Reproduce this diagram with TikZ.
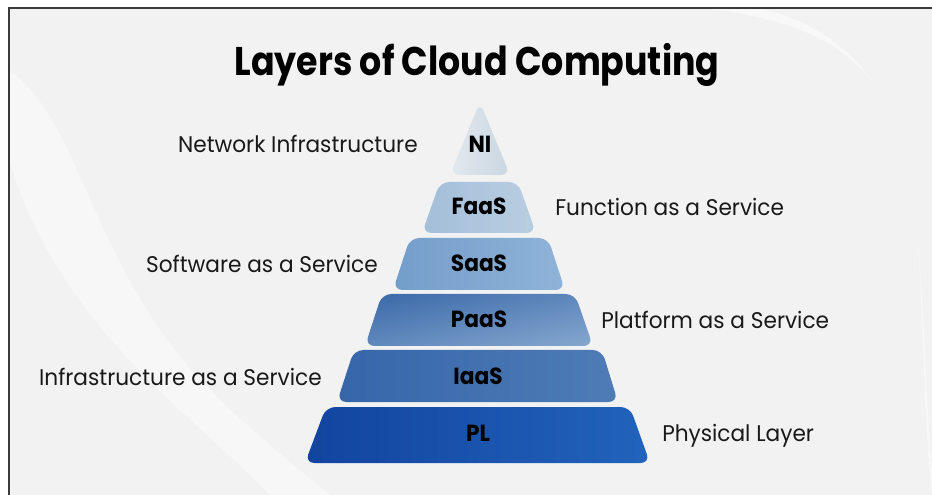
\documentclass[tikz,border=0pt]{standalone}
\usepackage{fontspec}
\setmainfont{Poppins}[FakeStretch=0.955]
\newfontfamily\titlefont{Poppins}[FakeStretch=0.87]
\newfontfamily\tagfont{Poppins}[FakeStretch=0.93]
\usepackage{xcolor}
\usetikzlibrary{shadings}

\definecolor{bgGray}{HTML}{F2F2F2}
\definecolor{frameGray}{HTML}{3A3A3A}
\definecolor{niA}{HTML}{E3E9EE}
\definecolor{niB}{HTML}{C9D6E1}
\definecolor{faasA}{HTML}{A3BEDA}
\definecolor{faasB}{HTML}{BACEE1}
\definecolor{saasA}{HTML}{739DCA}
\definecolor{saasB}{HTML}{90B3D8}
\definecolor{paasA}{HTML}{3A68A8}
\definecolor{paasB}{HTML}{86A8CF}
\definecolor{paasM}{HTML}{5F88BC}
\definecolor{iaasA}{HTML}{3666AA}
\definecolor{iaasB}{HTML}{4F7CB6}
\definecolor{plA}{HTML}{12449E}
\definecolor{plB}{HTML}{2263BC}

\begin{document}
\begin{tikzpicture}[x=0.75pt,y=0.75pt,yscale=-1,xscale=1,
  layer/.style={rounded corners=7pt},
  tag/.style={inner sep=0pt,font=\tagfont\fontsize{17.5}{20}\selectfont\bfseries,text=black},
  side/.style={inner sep=0pt,font=\fontsize{17}{20}\selectfont,text=black!90}]
\useasboundingbox (0,0) rectangle (932,495);

% background and frame
\fill[white] (0,0) rectangle (932,495);
\fill[bgGray] (9,8) rectangle (932,495);
\fill[white,opacity=0.45] (9,70) .. controls (80,120) and (90,260) .. (200,380) .. controls (260,440) and (300,470) .. (330,495) -- (270,495) .. controls (200,420) and (60,330) .. (9,160) -- cycle;
\fill[white,opacity=0.5] (700,8) .. controls (820,20) and (880,60) .. (905,150) .. controls (925,230) and (920,380) .. (932,495) -- (932,8) -- cycle;
\fill[bgGray] (760,8) .. controls (850,30) and (895,90) .. (912,190) .. controls (925,280) and (925,400) .. (932,470) -- (932,8) -- cycle;
\draw[frameGray,line width=1.2pt] (9,495) -- (9,8) -- (932,8);

% title
\node[inner sep=0pt,anchor=base,font=\titlefont\fontsize{30}{34}\selectfont\bfseries] (title) at (477,76) {Layers of Cloud Computing};

% pyramid layers
\shade[layer,left color=niA,right color=niB] (480,102) -- (510,175) -- (450,175) -- cycle;
\shade[layer,left color=faasA,right color=faasB] (440,182) -- (518,182) -- (536,233) -- (422,233) -- cycle;
\shade[layer,left color=saasA,right color=saasB] (410,238) -- (548,238) -- (565,290) -- (393,290) -- cycle;
\shade[layer,upper left=paasA,lower right=paasB,upper right=paasM,lower left=paasM] (382,294) -- (575,294) -- (593,346) -- (365,346) -- cycle;
\shade[layer,left color=iaasA,right color=iaasB] (354,350) -- (602,350) -- (618,402) -- (337,402) -- cycle;
\shade[layer,left color=plA,right color=plB] (326,407) -- (630,407) -- (650,463) -- (305,463) -- cycle;

% layer tags
\node[tag,anchor=base] (ni) at (480,153) {NI};
\node[tag,anchor=base] (faas) at (479,215) {FaaS};
\node[tag,anchor=base] (saas) at (479,272) {SaaS};
\node[tag,anchor=base] (paas) at (479,328) {PaaS};
\node[tag,anchor=base] (iaas) at (478,384) {IaaS};
\node[tag,anchor=base] (pl) at (478,441) {PL};

% side labels
\node[side,anchor=base east] (niText) at (418,153) {Network Infrastructure};
\node[side,anchor=base west] (faasText) at (555,216) {Function as a Service};
\node[side,anchor=base east] (saasText) at (378,273) {Software as a Service};
\node[side,anchor=base west] (paasText) at (601,329) {Platform as a Service};
\node[side,anchor=base east] (iaasText) at (322,385) {Infrastructure as a Service};
\node[side,anchor=base west] (plText) at (662,441) {Physical Layer};

\end{tikzpicture}
\end{document}
